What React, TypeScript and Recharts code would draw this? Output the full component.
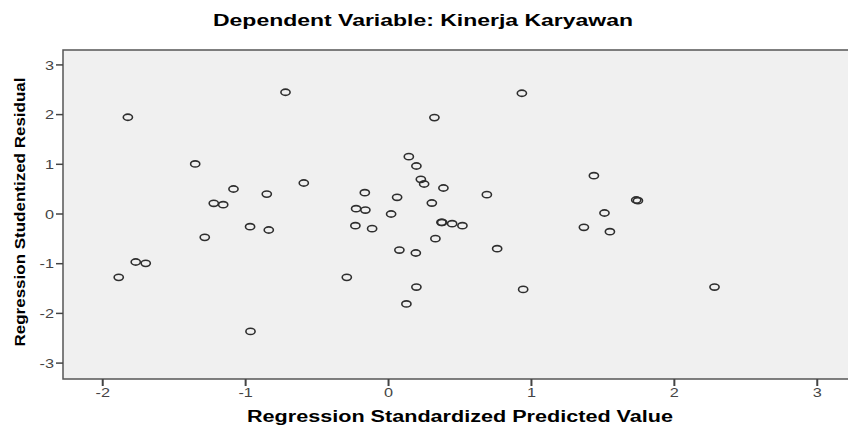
import { ScatterChart, Scatter, XAxis, YAxis, ReferenceArea, Label } from "recharts";

// residual plot: standardized predicted value vs studentized residual
const predicted = [
  -1.824, -0.721, -1.353, -1.085, -1.223, -1.157, -0.852, -0.593, -0.969, -0.838,
  -1.286, -1.769, -1.699, -1.888, -0.966, -0.292,
  0.933, 0.321, 0.142, 0.195, 0.226, 0.249, 0.384, 0.688, -0.166, 0.06,
  -0.227, -0.162, 0.018, 0.303, -0.232, -0.115, 0.37, 0.375, 0.445, 0.517,
  0.328, 0.076, 0.191, 0.76, 0.195, 0.125, 0.942, 1.437, 1.367,
  1.733, 1.745, 1.511, 1.549, 2.281,
];
const residual = [
  1.947, 2.45, 1.007, 0.503, 0.215, 0.187, 0.4, 0.624, -0.255, -0.322,
  -0.47, -0.966, -0.993, -1.275, -2.362, -1.275,
  2.43, 1.94, 1.154, 0.966, 0.698, 0.604, 0.523, 0.389, 0.429, 0.336,
  0.107, 0.08, 0.0, 0.221, -0.235, -0.295, -0.168, -0.17, -0.195, -0.235,
  -0.496, -0.725, -0.785, -0.698, -1.47, -1.81, -1.517, 0.771, -0.268,
  0.282, 0.268, 0.02, -0.356, -1.47,
];
const xTicks = [-2, -1, 0, 1, 2, 3];
const yTicks = [-3, -2, -1, 0, 1, 2, 3];
const xDomain: [number, number] = [-2.278, 3.404];
const yDomain: [number, number] = [-3.32, 3.3];

const points = predicted.map((x, i) => ({ x, y: residual[i] }));

const FONT = "'Liberation Sans', Arial, sans-serif";

const Ring = (p: any) => (
  <ellipse cx={p.cx} cy={p.cy} rx={4.6} ry={3.1} fill="none" stroke="#2e2e2e" strokeWidth={1.6} />
);

const XTick = ({ x, y, payload }: any) => (
  <g transform={`translate(${x},${y}) scale(1.25,1)`}>
    <text x={0} y={0} dy="0.71em" textAnchor="middle" fill="#444" fontFamily={FONT} fontSize={13}>
      {payload.value}
    </text>
  </g>
);

const YTick = ({ x, y, payload }: any) => (
  <g transform={`translate(${x},${y}) scale(1.25,1)`}>
    <text x={0} y={0} dy="0.355em" textAnchor="end" fill="#444" fontFamily={FONT} fontSize={13}>
      {payload.value}
    </text>
  </g>
);

export default function App() {
  return (
    <div style={{ position: "absolute", left: 0, top: 0, width: 848, height: 431, overflow: "hidden", background: "#fff" }}>
      <ScatterChart width={880} height={431} margin={{ top: 50, right: 5, bottom: 0, left: 8 }}>
        <ReferenceArea
          x1={xDomain[0]} x2={xDomain[1]} y1={yDomain[0]} y2={yDomain[1]}
          fill="#f0f0f0" fillOpacity={1} stroke="#555" strokeWidth={1.5}
          label={{
            content: () => (
              <text x={423} y={26} textAnchor="middle" fontFamily={FONT} fontWeight="bold" fontSize={16}
                textLength={420} lengthAdjust="spacingAndGlyphs" fill="#000">
                Dependent Variable: Kinerja Karyawan
              </text>
            ),
          }}
        />
        <XAxis
          type="number" dataKey="x" domain={xDomain} ticks={xTicks} allowDataOverflow
          height={52} axisLine={false} tickSize={7} tickMargin={2}
          tickLine={{ stroke: "#444", strokeWidth: 2 }} tick={<XTick />}
        >
          <Label
            content={() => (
              <text x={460} y={422} textAnchor="middle" fontFamily={FONT} fontWeight="bold" fontSize={16}
                textLength={426} lengthAdjust="spacingAndGlyphs" fill="#000">
                Regression Standardized Predicted Value
              </text>
            )}
          />
        </XAxis>
        <YAxis
          type="number" dataKey="y" domain={yDomain} ticks={yTicks} allowDataOverflow
          width={55} axisLine={false} tickSize={7} tickMargin={2}
          tickLine={{ stroke: "#444", strokeWidth: 1.5 }} tick={<YTick />}
        >
          <Label
            content={() => (
              <text transform="translate(25,212) rotate(-90)" x={0} y={0} textAnchor="middle" fontFamily={FONT}
                fontWeight="bold" fontSize={15} textLength={269} lengthAdjust="spacingAndGlyphs" fill="#000">
                Regression Studentized Residual
              </text>
            )}
          />
        </YAxis>
        <Scatter data={points} shape={Ring} isAnimationActive={false} />
      </ScatterChart>
    </div>
  );
}
